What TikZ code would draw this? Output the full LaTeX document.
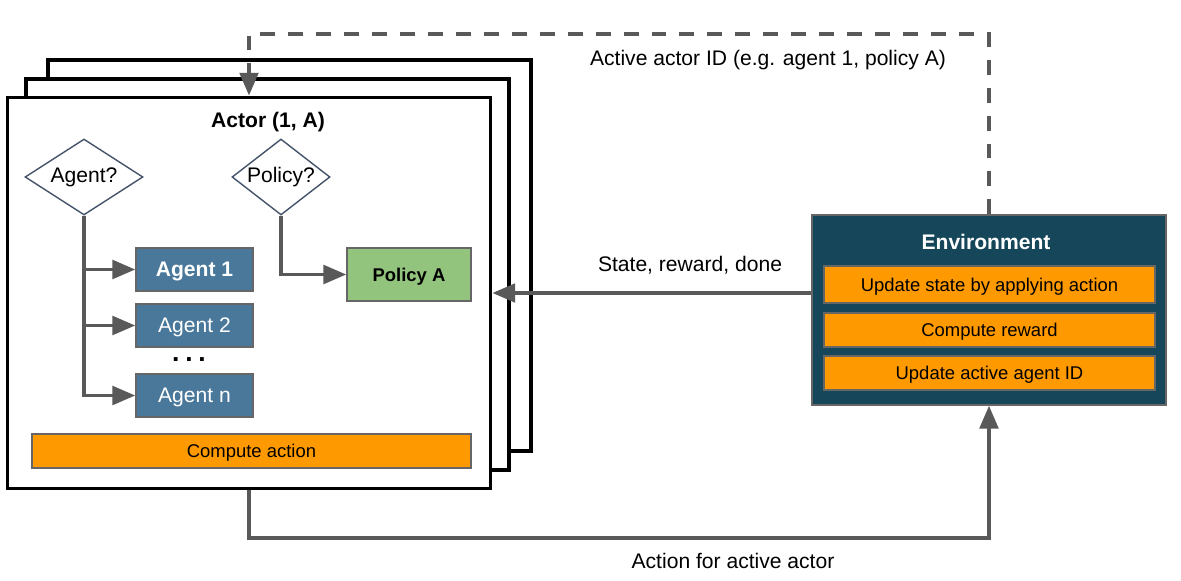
\documentclass[tikz,border=0pt]{standalone}
\usepackage{fontspec}
\setmainfont{Liberation Sans}
\usetikzlibrary{arrows.meta,shapes.geometric}
\definecolor{linegray}{HTML}{595959}
\definecolor{boxgray}{HTML}{666666}
\definecolor{agentblue}{HTML}{4A789A}
\definecolor{policygreen}{HTML}{93C47D}
\definecolor{envteal}{HTML}{15465A}
\definecolor{taskorange}{HTML}{FF9900}
\definecolor{diamondblue}{HTML}{44546A}
\begin{document}
\begin{tikzpicture}[x=0.02cm,y=-0.02cm,
   font=\fontsize{12}{14}\selectfont,
   frame/.style={draw=black,line width=2.2pt,fill=white,minimum width=9.66cm,minimum height=7.82cm},
   choice/.style={diamond,draw=diamondblue,line width=0.8pt,inner sep=0pt,minimum height=1.52cm},
   agentbox/.style={draw=boxgray,line width=0.8pt,fill=agentblue,text=white,text depth=0pt,minimum width=2.34cm,minimum height=0.86cm},
   taskbox/.style={draw=boxgray,line width=0.8pt,fill=taskorange,text depth=0pt,font=\fontsize{10.5}{12.6}\selectfont,minimum width=6.62cm,minimum height=0.68cm},
   flow/.style={draw=linegray,line width=2.2pt,-{Triangle[length=13pt,width=10.5pt]}}]
   \useasboundingbox (0,0) rectangle (1181,581);

   % stacked actor frames
   \node[frame] (back) at (289.5,255.5) {};
   \node[frame] (middle) at (267.5,274.5) {};
   \node[frame] (actor) at (249,293) {};
   \node[font=\fontsize{12}{14}\selectfont\bfseries] (title) at (268,122) {Actor (1, A)};

   \node[choice,aspect=1.55,minimum width=2.36cm] (agentq) at (84,177) {Agent?};
   \node[choice,aspect=1.29,minimum width=1.96cm] (policyq) at (281,177) {Policy?};

   \node[agentbox,font=\fontsize{12}{14}\selectfont\bfseries] (agent1) at (194.5,269.5) {Agent 1};
   \node[agentbox] (agent2) at (194.5,325.5) {Agent 2};
   \node[font=\fontsize{15}{17}\selectfont\bfseries] (dots) at (189,360) {.\hspace{3.3pt}.\hspace{3.3pt}.};
   \node[agentbox] (agentn) at (194.5,395.5) {Agent n};

   \node[draw=boxgray,line width=0.8pt,fill=policygreen,text depth=0pt,font=\fontsize{10.5}{12.6}\selectfont\bfseries,
      minimum width=2.48cm,minimum height=1.06cm] (policya) at (409,274.5) {Policy A};
   \node[taskbox,minimum width=8.78cm] (action) at (251.5,451) {Compute action};

   % environment side
   \node[draw=boxgray,line width=0.8pt,fill=envteal,minimum width=7.08cm,minimum height=3.8cm] (env) at (989,310) {};
   \node[text=white,font=\fontsize{12}{14}\selectfont\bfseries] (envtitle) at (986,242) {Environment};
   \node[taskbox,minimum height=0.74cm] (update) at (989.5,284.5) {Update state by applying action};
   \node[taskbox] (reward) at (989.5,330) {Compute reward};
   \node[taskbox] (activeid) at (989.5,373) {Update active agent ID};

   \draw[flow] (agentq.south) |- (agent1.west);
   \draw[flow] (agentq.south) |- (agent2.west);
   \draw[flow] (agentq.south) |- (agentn.west);
   \draw[flow] (policyq.south) |- (policya.west);

   \draw[flow] (env.west |- 0,293) -- (actor.east |- 0,293);
   \node (statelabel) at (690,265) {State, reward, done};

   \draw[flow,dash pattern=on 8.5pt off 7.4pt] (env.north) -- (env.north |- 0,34) -| (actor.north);
   \node (idlabel) at (768,60) {Active actor ID (e.g. agent 1, policy A)};

   \draw[flow] (actor.south) -- (actor.south |- 0,538) -| (env.south);
   \node (actionlabel) at (733,561) {Action for active actor};
\end{tikzpicture}
\end{document}
